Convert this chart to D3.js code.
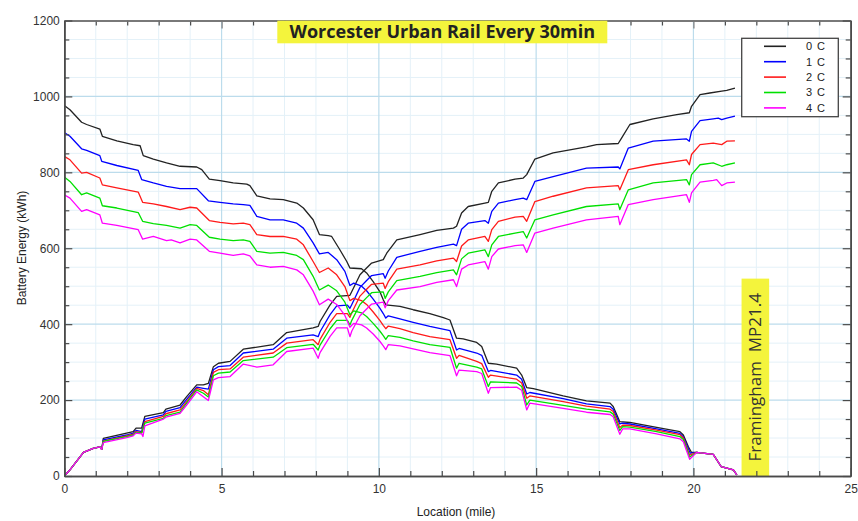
<!DOCTYPE html>
<html>
<head>
<meta charset="utf-8">
<script src="https://cdn.jsdelivr.net/npm/d3@7"></script>
<style>
  body { margin: 0; background: #fff; }
  svg { display: block; }
</style>
</head>
<body>
<svg id="chart" width="858" height="521"></svg>
<script>
// Battery energy (kWh) against location (mile), Worcester (0) to Framingham (MP21.4).
// Eastbound runs leave Worcester charged and arrive at Framingham empty;
// westbound runs leave Framingham charged and arrive at Worcester empty.

const seriesLabels = ["0 C", "1 C", "2 C", "3 C", "4 C"];
const seriesColors = ["#222222", "#0000ff", "#ff1a1a", "#00e000", "#ff00ff"];

const xTicks = [0, 5, 10, 15, 20, 25];
const yTicks = [0, 200, 400, 600, 800, 1000, 1200];

const eastbound0C = [[0,976],[0.18,965],[0.55,932],[0.71,926],[1.13,914],[1.21,895],[1.67,883],[2.19,873],[2.41,870],[2.51,844],[2.83,835],[3.25,825],[3.68,816],[4.21,814],[4.37,807],[4.61,782],[4.95,778],[5.37,772],[5.8,769],[5.9,765],[6.12,738],[6.54,730],[6.96,728],[7.39,719],[7.6,706],[7.91,675],[8.11,636],[8.39,633],[8.5,631],[8.76,596],[8.98,565],[9.08,548],[9.45,546],[9.61,535],[9.82,512],[10.03,486],[10.14,464],[10.22,451],[10.67,447],[11.09,438],[11.62,428],[12.05,417],[12.26,411],[12.47,363],[12.68,361],[13.11,352],[13.27,341],[13.48,297],[13.74,295],[14.38,284],[14.54,266],[14.7,233],[14.91,230],[15.86,211],[16.6,198],[17.35,192],[17.45,183],[17.66,143],[17.98,141],[18.83,128],[19.57,117],[19.68,108],[19.84,77],[19.94,62],[20.1,62],[20.63,57],[20.88,25],[21.27,16],[21.38,3]];
const eastbound1C = [[0,905],[0.18,895],[0.55,862],[0.71,858],[1.13,844],[1.19,829],[1.67,818],[2.35,805],[2.46,781],[2.83,772],[3.25,763],[3.68,757],[4.21,757],[4.58,725],[4.95,721],[5.37,717],[5.69,715],[5.9,713],[6.12,684],[6.54,675],[6.96,675],[7.39,666],[7.6,653],[7.91,614],[8.11,585],[8.39,589],[8.66,570],[8.92,539],[9.08,502],[9.2,508],[9.45,500],[9.61,488],[9.82,466],[10.03,442],[10.14,428],[10.22,416],[10.3,422],[10.67,414],[11.09,405],[11.62,394],[12.26,383],[12.47,332],[12.55,336],[13.11,324],[13.27,318],[13.48,275],[13.55,278],[14.38,266],[14.54,255],[14.7,216],[14.8,220],[15.86,204],[16.6,190],[17.35,183],[17.45,176],[17.66,137],[17.75,139],[17.98,137],[18.83,124],[19.57,112],[19.68,103],[19.9,60],[20.1,62],[20.63,57],[20.88,25],[21.27,16],[21.38,3]];
const eastbound2C = [[0,842],[0.18,833],[0.55,798],[0.71,800],[1.13,785],[1.21,767],[1.67,759],[2.35,748],[2.49,721],[2.83,717],[3.25,710],[3.68,702],[4.0,708],[4.21,706],[4.61,673],[4.95,668],[5.37,664],[5.69,666],[5.9,662],[6.12,636],[6.54,631],[6.96,631],[7.39,624],[7.6,609],[7.91,565],[8.11,536],[8.39,548],[8.66,530],[8.92,499],[9.08,462],[9.2,468],[9.45,462],[9.61,452],[9.82,432],[10.03,410],[10.14,397],[10.22,388],[10.3,395],[10.67,388],[11.09,378],[11.62,367],[12.26,359],[12.47,310],[12.55,318],[13.11,302],[13.27,296],[13.48,260],[13.55,266],[14.38,255],[14.54,245],[14.7,205],[14.8,211],[15.86,196],[16.6,184],[17.35,176],[17.45,170],[17.66,128],[17.75,134],[17.98,133],[18.83,121],[19.57,109],[19.68,100],[19.88,55],[20.1,62],[20.63,57],[20.88,25],[21.27,16],[21.38,3]];
const eastbound3C = [[0,788],[0.18,776],[0.55,741],[0.71,746],[1.13,732],[1.21,712],[1.67,706],[2.35,694],[2.49,671],[2.83,665],[3.25,660],[3.68,653],[4.0,662],[4.21,660],[4.61,629],[4.95,624],[5.37,620],[5.69,622],[5.9,618],[6.12,592],[6.54,587],[6.96,589],[7.39,581],[7.6,570],[7.91,526],[8.11,490],[8.39,503],[8.66,488],[8.92,458],[9.08,425],[9.2,435],[9.45,430],[9.61,420],[9.82,402],[10.03,382],[10.14,370],[10.22,360],[10.3,370],[10.67,365],[11.09,356],[11.62,346],[12.26,339],[12.47,284],[12.55,297],[13.11,287],[13.27,282],[13.48,236],[13.55,248],[14.38,245],[14.54,236],[14.7,187],[14.8,200],[15.86,186],[16.6,176],[17.35,169],[17.45,163],[17.66,120],[17.75,130],[17.98,129],[18.83,117],[19.57,104],[19.68,96],[19.88,50],[20.1,62],[20.63,57],[20.88,25],[21.27,16],[21.38,3]];
const eastbound4C = [[0,741],[0.18,732],[0.55,697],[0.71,702],[1.13,688],[1.21,666],[1.67,660],[2.35,649],[2.49,624],[2.83,631],[3.25,620],[3.4,622],[3.68,614],[4.0,624],[4.21,622],[4.61,592],[4.95,587],[5.37,581],[5.69,585],[5.9,580],[6.12,556],[6.54,550],[6.96,552],[7.39,543],[7.6,530],[7.91,487],[8.11,451],[8.39,466],[8.66,452],[8.92,423],[9.08,392],[9.2,402],[9.45,398],[9.61,390],[9.82,374],[10.03,355],[10.14,343],[10.22,333],[10.3,346],[10.67,343],[11.09,335],[11.62,325],[12.26,317],[12.47,264],[12.55,279],[13.11,275],[13.27,270],[13.48,218],[13.55,233],[14.38,234],[14.54,226],[14.7,174],[14.8,192],[15.86,178],[16.6,168],[17.35,162],[17.45,156],[17.66,110],[17.75,124],[17.98,124],[18.83,111],[19.57,98],[19.68,90],[19.88,44],[20.1,62],[20.63,57],[20.88,25],[21.27,16],[21.38,3]];

const westbound0C = [[0,0],[0.18,16],[0.61,62],[0.92,73],[1.13,77],[1.19,70],[1.24,99],[1.98,113],[2.19,117],[2.28,126],[2.46,126],[2.56,157],[3.15,167],[3.23,176],[3.68,187],[3.89,209],[4.21,240],[4.42,240],[4.58,244],[4.74,288],[4.9,297],[5.27,302],[5.69,334],[6.64,346],[7.07,378],[7.91,390],[8.07,394],[8.13,407],[8.45,451],[8.66,473],[9.08,476],[9.14,486],[9.4,530],[9.61,548],[9.77,561],[10.14,570],[10.25,587],[10.57,622],[11.31,636],[11.84,647],[12.37,653],[12.47,658],[12.63,693],[12.84,710],[13.37,719],[13.48,721],[13.59,750],[13.8,772],[14.33,782],[14.59,785],[14.7,794],[14.96,835],[15.54,851],[16.6,867],[16.92,873],[17.61,876],[17.72,891],[17.98,926],[18.72,941],[19.47,952],[19.87,957],[19.94,974],[20.21,1005],[20.52,1009],[20.9,1014],[21.06,1016],[21.32,1022]];
const westbound1C = [[0,0],[0.18,16],[0.61,62],[0.92,73],[1.13,77],[1.19,70],[1.24,95],[1.98,108],[2.19,113],[2.28,120],[2.46,117],[2.56,150],[3.15,161],[3.23,170],[3.68,180],[3.89,202],[4.21,234],[4.42,231],[4.58,229],[4.74,280],[4.9,288],[5.27,291],[5.69,324],[6.64,334],[7.07,363],[7.91,372],[8.07,367],[8.13,380],[8.45,425],[8.66,448],[9.0,450],[9.08,442],[9.14,452],[9.4,497],[9.61,515],[9.77,528],[10.14,533],[10.2,521],[10.3,540],[10.57,576],[11.31,592],[11.84,602],[12.37,611],[12.47,607],[12.63,650],[12.84,666],[13.37,673],[13.48,666],[13.59,697],[13.8,719],[14.33,728],[14.59,732],[14.7,728],[14.96,776],[15.54,789],[16.6,811],[17.61,814],[17.66,809],[17.93,864],[18.72,882],[19.78,888],[19.87,882],[19.94,908],[20.21,936],[20.63,941],[20.79,943],[20.9,939],[21.06,943],[21.32,948]];
const westbound2C = [[0,0],[0.18,16],[0.61,62],[0.92,73],[1.13,77],[1.19,70],[1.24,92],[1.98,106],[2.19,110],[2.28,117],[2.46,114],[2.56,143],[3.15,157],[3.23,164],[3.68,174],[3.89,196],[4.21,231],[4.42,225],[4.58,214],[4.74,273],[4.9,280],[5.27,282],[5.69,313],[6.64,324],[7.07,350],[7.91,359],[8.07,346],[8.13,360],[8.45,405],[8.66,428],[9.0,428],[9.08,418],[9.14,430],[9.4,474],[9.61,492],[9.77,505],[10.14,508],[10.2,494],[10.3,512],[10.57,545],[11.31,556],[11.84,567],[12.37,574],[12.47,565],[12.63,606],[12.84,622],[13.37,631],[13.48,618],[13.59,649],[13.8,671],[14.33,682],[14.59,684],[14.7,671],[14.96,723],[15.54,737],[16.6,759],[17.61,765],[17.66,754],[17.93,807],[18.72,820],[19.78,833],[19.87,820],[19.94,847],[20.21,873],[20.63,877],[20.9,873],[21.06,882],[21.32,883]];
const westbound3C = [[0,0],[0.18,16],[0.61,62],[0.92,73],[1.13,77],[1.19,70],[1.24,91],[1.98,104],[2.19,108],[2.28,115],[2.46,113],[2.56,139],[3.15,152],[3.23,159],[3.68,168],[3.89,192],[4.21,227],[4.42,218],[4.58,208],[4.74,264],[4.9,271],[5.27,274],[5.69,304],[6.64,313],[7.07,338],[7.91,347],[8.07,332],[8.13,345],[8.45,388],[8.66,410],[9.0,410],[9.08,398],[9.14,410],[9.4,452],[9.61,470],[9.77,483],[10.14,485],[10.2,468],[10.3,485],[10.57,515],[11.31,526],[11.84,536],[12.37,543],[12.47,530],[12.63,572],[12.84,587],[13.37,596],[13.48,578],[13.59,609],[13.8,631],[14.33,640],[14.59,644],[14.7,627],[14.96,675],[15.54,688],[16.6,710],[17.61,717],[17.66,702],[17.93,754],[18.72,772],[19.78,781],[19.87,767],[19.94,794],[20.21,820],[20.63,825],[20.9,816],[21.06,820],[21.32,825]];
const westbound4C = [[0,0],[0.18,16],[0.61,62],[0.92,73],[1.13,77],[1.19,70],[1.24,88],[1.98,101],[2.19,106],[2.28,113],[2.46,111],[2.5,104],[2.56,132],[3.15,150],[3.23,155],[3.68,165],[3.89,187],[4.21,222],[4.42,209],[4.58,199],[4.74,253],[4.9,259],[5.27,262],[5.69,295],[6.12,287],[6.64,293],[7.07,328],[7.91,337],[8.07,310],[8.13,325],[8.45,368],[8.66,390],[9.0,390],[9.08,367],[9.14,382],[9.4,422],[9.61,440],[9.77,453],[10.14,458],[10.2,443],[10.3,462],[10.57,490],[11.31,499],[11.84,510],[12.37,517],[12.47,499],[12.63,545],[12.84,556],[13.37,565],[13.48,545],[13.59,578],[13.8,598],[14.33,607],[14.59,609],[14.7,589],[14.96,640],[15.54,653],[16.6,675],[17.61,684],[17.66,662],[17.93,715],[18.72,728],[19.78,741],[19.87,721],[19.94,746],[20.21,774],[20.63,779],[20.74,781],[20.9,765],[21.06,772],[21.32,774]];

const eastbound = [eastbound0C, eastbound1C, eastbound2C, eastbound3C, eastbound4C];
const westbound = [westbound0C, westbound1C, westbound2C, westbound3C, westbound4C];

const titleText = "Worcester Urban Rail Every 30min";
const stationText = "Framingham  MP21.4";
const stationMile = 21.4;

// ---- layout ----
const plot = { left: 64.3, right: 850.7, top: 20.5, bottom: 476 };
const x = d3.scaleLinear().domain([0, 25]).range([plot.left, plot.right]);
const y = d3.scaleLinear().domain([0, 1200]).range([plot.bottom, plot.top]);
const svg = d3.select("#chart");
const font = "'Liberation Sans', Arial, sans-serif";
const plain = d3.format("d");

// ---- grid ----
const grid = svg.append("g");
const xMinor = d3.range(1, 25).filter(v => v % 5 !== 0);
const yMinor = d3.range(50, 1200, 50).filter(v => v % 200 !== 0);
grid.selectAll(".gxm").data(xMinor).join("line")
  .attr("x1", d => x(d)).attr("x2", d => x(d)).attr("y1", plot.top).attr("y2", plot.bottom)
  .attr("stroke", "#e4f1f8").attr("stroke-width", 1);
grid.selectAll(".gym").data(yMinor).join("line")
  .attr("x1", plot.left).attr("x2", plot.right).attr("y1", d => y(d)).attr("y2", d => y(d))
  .attr("stroke", "#e4f1f8").attr("stroke-width", 1);
grid.selectAll(".gxM").data(xTicks.slice(1, -1)).join("line")
  .attr("x1", d => x(d)).attr("x2", d => x(d)).attr("y1", plot.top).attr("y2", plot.bottom)
  .attr("stroke", "#bcdcec").attr("stroke-width", 1.2);
grid.selectAll(".gyM").data(yTicks.slice(1, -1)).join("line")
  .attr("x1", plot.left).attr("x2", plot.right).attr("y1", d => y(d)).attr("y2", d => y(d))
  .attr("stroke", "#bcdcec").attr("stroke-width", 1.2);

// ---- station marker ----
const stationW = 27.6;
svg.append("rect")
  .attr("x", x(stationMile) + 4.1).attr("y", y(520)).attr("width", stationW)
  .attr("height", plot.bottom - y(520)).attr("fill", "#f4f43c");
svg.append("text")
  .attr("transform", `translate(${x(stationMile) + 4.1 + stationW / 2},${(y(520) + plot.bottom) / 2}) rotate(-90)`)
  .attr("text-anchor", "middle").attr("dy", "0.36em")
  .attr("font-family", "'Open Sans', sans-serif").attr("font-size", 17)
  .attr("fill", "#333").attr("xml:space", "preserve")
  .text(stationText);

// ---- series ----
const line = d3.line().x(d => x(d[0])).y(d => y(d[1]));
const lines = svg.append("g").attr("fill", "none").attr("stroke-width", 1.3)
  .attr("stroke-linejoin", "round");
seriesColors.forEach((c, i) => {
  lines.append("path").attr("d", line(eastbound[i])).attr("stroke", c);
  lines.append("path").attr("d", line(westbound[i])).attr("stroke", c);
});

// ---- axes ----
function styleAxis(g, color) {
  g.select(".domain").attr("stroke", color).attr("stroke-width", 1.6);
  g.selectAll(".tick line").attr("stroke", color).attr("stroke-width", 1.2);
  g.selectAll("text").attr("font-family", font).attr("font-size", 12).attr("fill", "#333");
}
const axisColor = "#4a4a4a";
// minor ticks (all four sides)
svg.append("g").attr("transform", `translate(0,${plot.bottom})`)
  .call(d3.axisBottom(x).tickValues(xMinor).tickSize(-5).tickFormat("").tickSizeOuter(0))
  .call(g => styleAxis(g, axisColor));
svg.append("g").attr("transform", `translate(0,${plot.top})`)
  .call(d3.axisTop(x).tickValues(xMinor).tickSize(-5).tickFormat("").tickSizeOuter(0))
  .call(g => styleAxis(g, axisColor));
svg.append("g").attr("transform", `translate(${plot.left},0)`)
  .call(d3.axisLeft(y).tickValues(yMinor).tickSize(-5).tickFormat("").tickSizeOuter(0))
  .call(g => styleAxis(g, axisColor));
svg.append("g").attr("transform", `translate(${plot.right},0)`)
  .call(d3.axisRight(y).tickValues(yMinor).tickSize(-5).tickFormat("").tickSizeOuter(0))
  .call(g => styleAxis(g, axisColor));
// major ticks and labels
svg.append("g").attr("transform", `translate(0,${plot.bottom})`)
  .call(d3.axisBottom(x).tickValues(xTicks).tickSize(-8).tickPadding(8).tickFormat(plain).tickSizeOuter(0))
  .call(g => styleAxis(g, axisColor));
svg.append("g").attr("transform", `translate(0,${plot.top})`)
  .call(d3.axisTop(x).tickValues(xTicks).tickSize(-8).tickFormat("").tickSizeOuter(0))
  .call(g => styleAxis(g, "#7a7a7a"));
svg.append("g").attr("transform", `translate(${plot.left},0)`)
  .call(d3.axisLeft(y).tickValues(yTicks).tickSize(-8).tickPadding(4.5).tickFormat(plain).tickSizeOuter(0))
  .call(g => styleAxis(g, axisColor));
svg.append("g").attr("transform", `translate(${plot.right},0)`)
  .call(d3.axisRight(y).tickValues(yTicks).tickSize(-8).tickFormat("").tickSizeOuter(0))
  .call(g => styleAxis(g, axisColor));

// axis titles
svg.append("text")
  .attr("x", 456).attr("y", 516).attr("text-anchor", "middle")
  .attr("font-family", font).attr("font-size", 12).attr("fill", "#222")
  .text("Location (mile)");
svg.append("text")
  .attr("transform", "translate(22,248) rotate(-90)").attr("text-anchor", "middle")
  .attr("dy", "0.35em")
  .attr("font-family", font).attr("font-size", 12).attr("fill", "#222")
  .text("Battery Energy (kWh)");

// ---- title ----
svg.append("rect")
  .attr("x", 277.3).attr("y", 20.7).attr("width", 330).attr("height", 22.6)
  .attr("fill", "#f4f43c");
svg.append("text")
  .attr("x", 442.3).attr("y", 38).attr("text-anchor", "middle")
  .attr("font-family", "'Open Sans', sans-serif").attr("font-weight", "bold")
  .attr("font-size", 18).attr("fill", "#222")
  .text(titleText);

// ---- legend ----
const legend = svg.append("g");
legend.append("rect")
  .attr("x", 741.7).attr("y", 38.3).attr("width", 96.6).attr("height", 78.4)
  .attr("fill", "#fff").attr("stroke", "#444").attr("stroke-width", 1.3);
const rows = legend.selectAll(".row").data(seriesLabels).join("g")
  .attr("transform", (d, i) => `translate(0,${46.3 + i * 15.4})`);
rows.append("line").attr("x1", 764).attr("x2", 786)
  .attr("stroke", (d, i) => seriesColors[i]).attr("stroke-width", 1.6);
rows.append("text").attr("x", 826).attr("dy", "0.35em").attr("text-anchor", "end")
  .attr("font-family", font).attr("font-size", 11).attr("fill", "#222")
  .attr("letter-spacing", "1px")
  .text(d => d);
</script>
</body>
</html>
